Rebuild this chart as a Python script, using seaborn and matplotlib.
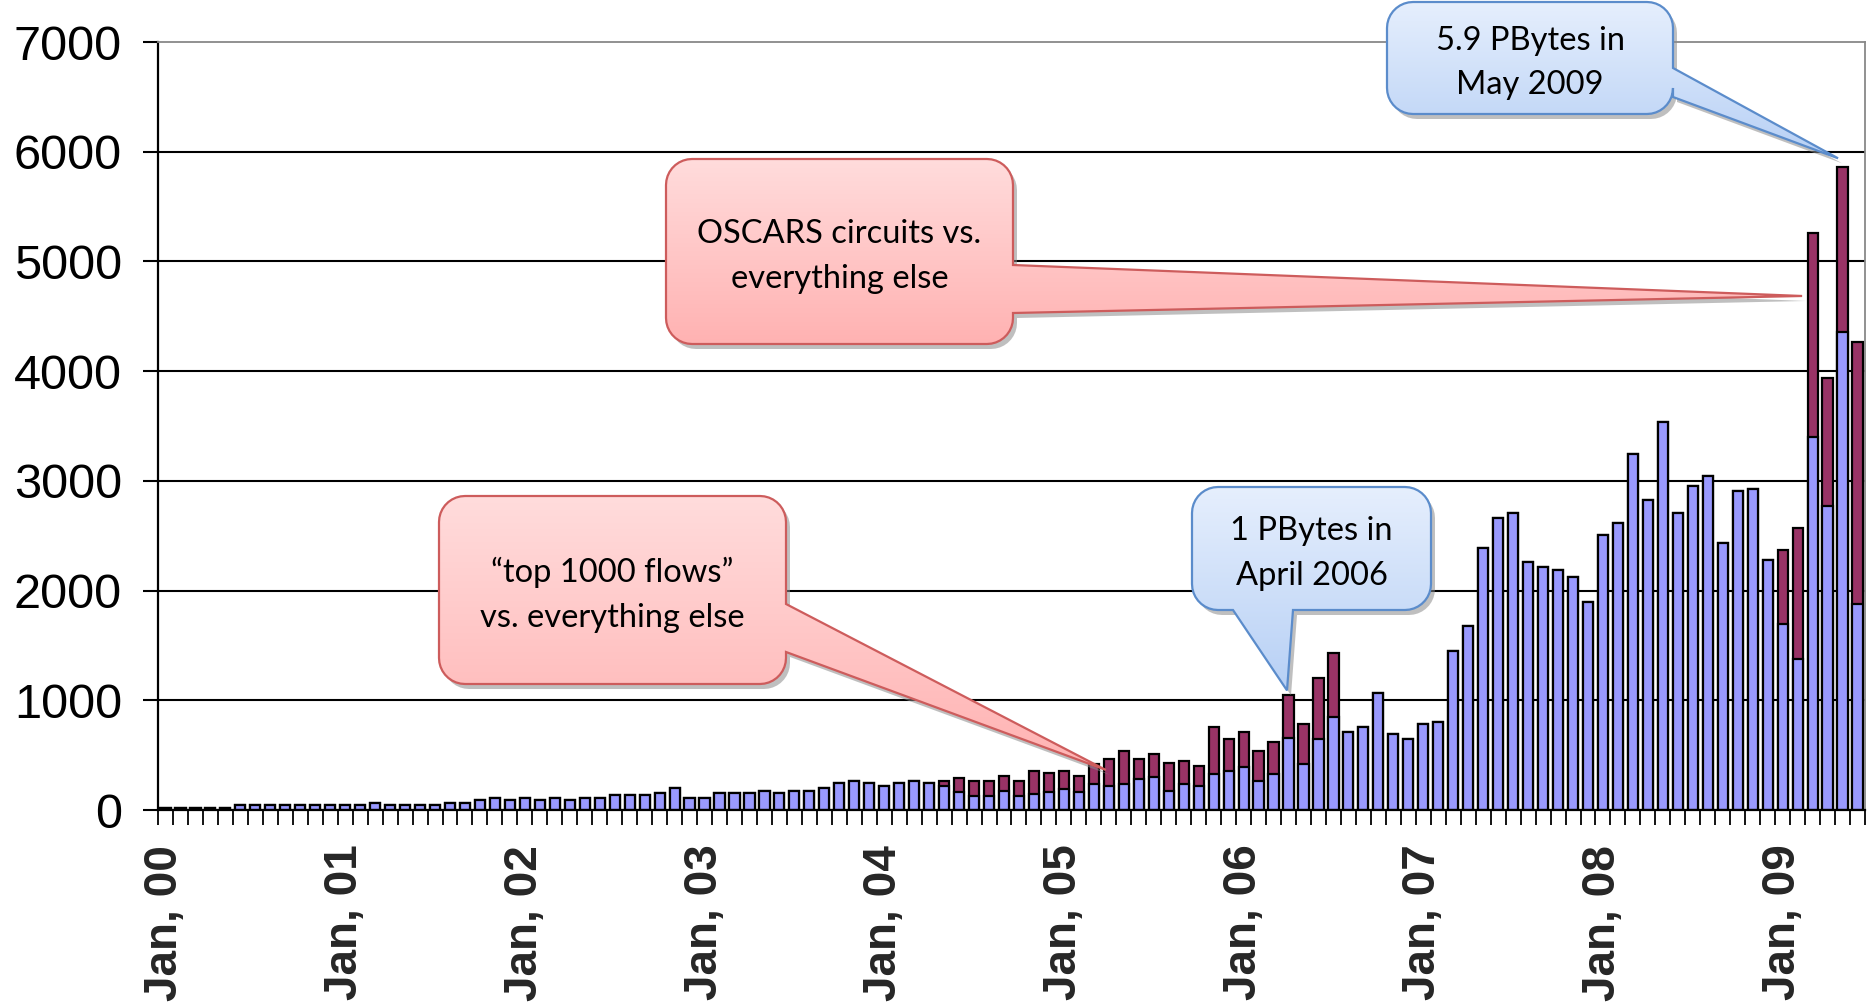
import numpy as np
import pandas as pd
import matplotlib.pyplot as plt
import seaborn as sns
from matplotlib.path import Path
from matplotlib.patches import PathPatch
from matplotlib.transforms import Affine2D
from matplotlib.colors import to_rgb

# Monthly traffic (TBytes), Jan 2000 - Jun 2009
months = pd.date_range("2000-01-01", "2009-06-01", freq="MS")
year_labels = ["Jan, 00", "Jan, 01", "Jan, 02", "Jan, 03", "Jan, 04",
               "Jan, 05", "Jan, 06", "Jan, 07", "Jan, 08", "Jan, 09"]

# lower (blue) part of each bar: everything else
everything_else = [20, 20, 20, 20, 20,
                   43, 43, 43, 43, 43, 43, 43, 43, 43,
                   67, 43, 43, 43, 43, 67, 67,
                   88, 109, 88, 109, 88, 109, 88, 105, 105,
                   134, 134, 134, 155, 200, 108, 108,
                   152, 152, 152, 173, 152, 173, 173,
                   199, 243, 264, 243, 220, 243, 264, 243,
                   216, 167, 125, 125, 170, 125, 150, 167, 190, 167, 234, 216,
                   234, 283, 301, 170, 234, 216, 325, 356, 395, 268, 325, 660, 416, 644, 851,
                   714, 760, 1070, 693, 648, 784, 803, 1453, 1678,
                   2392, 2663, 2709, 2259, 2213, 2192, 2125, 1900,
                   2505, 2620, 3247, 2821, 3537, 2709, 2955, 3046, 2438, 2909, 2930, 2283,
                   1699, 1380, 3400, 2772, 4357, 1878]

# upper (maroon) part: top 1000 flows (2004-06) / OSCARS circuits (2009)
top_flows = ([0] * 52
             + [48, 123, 139, 139, 140, 141, 207, 166, 167, 143, 187, 252,
                301, 185, 213, 256, 213, 185, 435, 292, 319, 267, 298, 392, 368, 563, 578]
             + [0] * 29
             + [672, 1192, 1860, 1166, 1505, 2388])

df = pd.DataFrame({"month": months.strftime("%Y-%m"),
                   "other": everything_else,
                   "top": top_flows})
df["total"] = df["other"] + df["top"]

sns.set_style("ticks")
plt.rcParams["font.family"] = ["Liberation Sans", "DejaVu Sans"]

W, H = 1875, 1008
fig = plt.figure(figsize=(W / 100, H / 100), dpi=100)
ax = fig.add_axes([158 / W, 1 - 810 / H, (1865 - 158) / W, (810 - 42) / H])

sns.barplot(data=df, x="month", y="total", color="#993366", saturation=1,
            width=0.68, edgecolor="black", linewidth=1.6, ax=ax)
sns.barplot(data=df, x="month", y="other", color="#9999FF", saturation=1,
            width=0.68, edgecolor="black", linewidth=1.6, ax=ax)

ax.set_xlim(-0.5, len(df) - 0.5)
ax.set_ylim(0, 7000)
ax.set_xlabel("")
ax.set_ylabel("")

# y axis
ax.set_yticks(range(0, 7001, 1000))
ax.set_yticklabels([str(v) for v in range(0, 7001, 1000)], fontsize=35)
ax.tick_params(axis="y", direction="out", length=11, width=1.5, pad=15, colors="black")
ax.yaxis.grid(True, color="black", linewidth=1.5)
ax.yaxis.get_gridlines()[-1].set_visible(False)
ax.set_axisbelow(True)

# x axis: labels at each January, ticks between months
ax.set_xticks(range(0, len(df), 12))
ax.set_xticklabels(year_labels, rotation=90, fontsize=33, fontweight="bold")
ax.set_xticks(np.arange(-0.5, len(df), 1), minor=True)
ax.tick_params(axis="x", which="major", length=0, pad=25)
ax.tick_params(axis="x", which="minor", direction="out", length=11, width=1.3, color="black")

for s in ["left", "bottom"]:
    ax.spines[s].set_color("black")
    ax.spines[s].set_linewidth(1.6)
for s in ["top", "right"]:
    ax.spines[s].set_color("#888888")
    ax.spines[s].set_linewidth(1.3)

# overlay in pixel coordinates for the callouts
ov = fig.add_axes([0, 0, 1, 1], zorder=5)
ov.axis("off")


def to_px(x, y):
    dx, dy = ax.transData.transform((x, y))
    return dx, H - dy


def callout(box, side, base, tip, text, c_top, c_bot, edge, r=26, fs=23.5):
    x0, y0, x1, y1 = box

    def arc(cx, cy, a0, a1):
        t = np.radians(np.linspace(a0, a1, 10))
        return list(zip(cx + r * np.cos(t), cy + r * np.sin(t)))

    verts = arc(x0 + r, y0 + r, 180, 270) + arc(x1 - r, y0 + r, 270, 360)
    if side == "right":
        verts += [(x1, base[0]), tip, (x1, base[1])]
    verts += arc(x1 - r, y1 - r, 0, 90)
    if side == "bottom":
        verts += [(base[1], y1), tip, (base[0], y1)]
    verts += arc(x0 + r, y1 - r, 90, 180)
    verts.append(verts[0])
    codes = [Path.MOVETO] + [Path.LINETO] * (len(verts) - 2) + [Path.CLOSEPOLY]
    path = Path(verts, codes)

    shadow = PathPatch(path.transformed(Affine2D().translate(4, 5)),
                       facecolor="#8c8c8c", edgecolor="none", alpha=0.55, zorder=1)
    ov.add_patch(shadow)

    clip = PathPatch(path, facecolor="none", edgecolor="none", zorder=2)
    ov.add_patch(clip)
    xs, ys = zip(*verts)
    c1 = np.array(to_rgb(c_top))
    c2 = np.array(to_rgb(c_bot))
    grad = np.linspace(0, 1, 256)[:, None, None] * (c2 - c1) + c1
    im = ov.imshow(grad, extent=(min(xs), max(xs), max(ys), min(ys)),
                   aspect="auto", origin="upper", interpolation="bilinear", zorder=2)
    im.set_clip_path(clip)

    ov.add_patch(PathPatch(path, facecolor="none", edgecolor=edge, linewidth=1.6, zorder=3))
    ov.text((x0 + x1) / 2, (y0 + y1) / 2 + 5, text, ha="center", va="center",
            fontsize=fs, family=["Lato", "DejaVu Sans"], linespacing=1.6,
            color="black", zorder=4)


blue_top, blue_bot, blue_edge = "#e6effd", "#b7d0f5", "#5b8ccb"
red_top, red_bot, red_edge = "#ffdcdc", "#ffb2b2", "#cd5c5c"

callout((1387, 2, 1673, 114), "right", (68, 97), to_px(111.7, 5940),
        "5.9 PBytes in\nMay 2009", blue_top, blue_bot, blue_edge)
callout((666, 159, 1013, 344), "right", (265, 313), to_px(109.3, 4685),
        "OSCARS circuits vs.\neverything else", red_top, red_bot, red_edge)
callout((439, 496, 786, 684), "right", (604, 652), to_px(62.8, 365),
        "\u201ctop 1000 flows\u201d\nvs. everything else", red_top, red_bot, red_edge)
callout((1192, 487, 1431, 610), "bottom", (1233, 1293), to_px(74.9, 1090),
        "1 PBytes in\nApril 2006", blue_top, blue_bot, blue_edge)

ov.set_xlim(0, W)
ov.set_ylim(H, 0)

fig.savefig("out.png", dpi=100)
